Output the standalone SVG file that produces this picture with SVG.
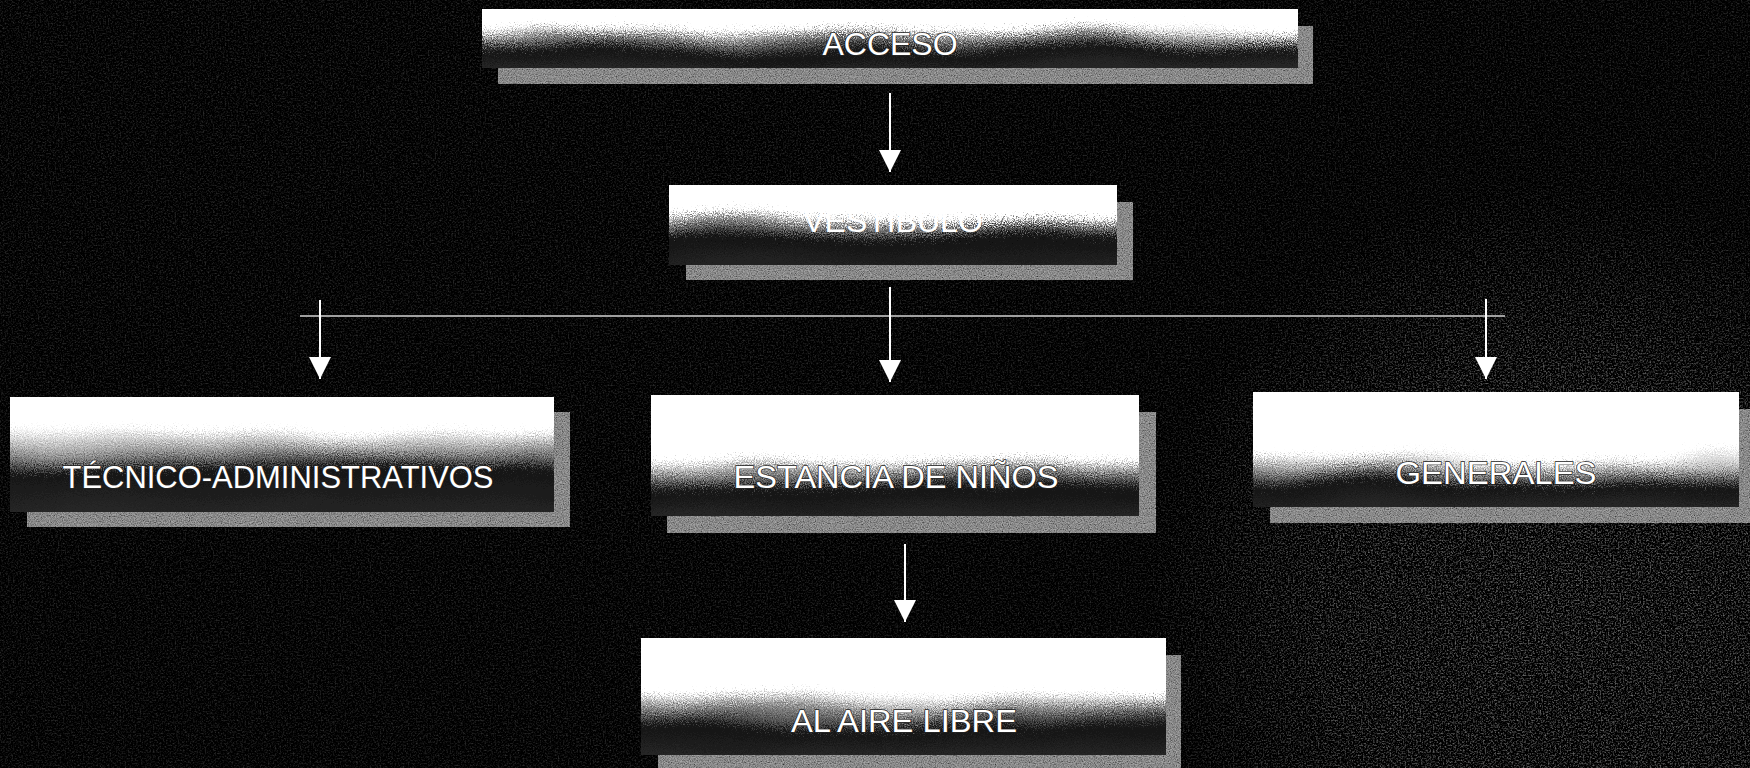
<svg xmlns="http://www.w3.org/2000/svg" width="1750" height="768" viewBox="0 0 1750 768">
<style>
.t{font-family:"Liberation Sans",Arial,sans-serif;font-size:32px;fill:#fff;text-anchor:middle;stroke:#262626;stroke-width:1.4px;paint-order:stroke}
.tn{font-family:"Liberation Sans",Arial,sans-serif;font-size:32px;fill:#fff;text-anchor:middle}
.sh{fill:#a6a6a6;filter:url(#speck)}
.bx{filter:url(#grain)}
.ar{stroke:#fff;stroke-width:2;fill:none;marker-end:url(#ah)}
.hl{stroke:#a0a0a0;stroke-width:2;fill:none}
</style>
<defs>
<filter id="grain" x="-5%" y="-20%" width="110%" height="140%">
<feTurbulence type="fractalNoise" baseFrequency="0.006 0.02" numOctaves="2" seed="9" result="low"/>
<feDisplacementMap in="SourceGraphic" in2="low" scale="26" xChannelSelector="R" yChannelSelector="G" result="w"/>
<feTurbulence type="fractalNoise" baseFrequency="0.9" numOctaves="2" seed="4" result="n"/>
<feDisplacementMap in="w" in2="n" scale="30" xChannelSelector="R" yChannelSelector="G"/>
</filter>
<filter id="speck" x="0" y="0" width="1" height="1">
<feTurbulence type="fractalNoise" baseFrequency="0.85" numOctaves="2" seed="7" result="t"/>
<feColorMatrix in="t" type="matrix" values="1.5 0 0 0 -0.1  1.5 0 0 0 -0.1  1.5 0 0 0 -0.1  0 0 0 0 1" result="g"/>
<feBlend in="SourceGraphic" in2="g" mode="multiply" result="b"/>
<feComposite in="b" in2="SourceAlpha" operator="in"/>
</filter>
<filter id="bgn" x="0" y="0" width="1" height="1">
<feTurbulence type="fractalNoise" baseFrequency="0.6" numOctaves="3" seed="11"/>
<feColorMatrix type="matrix" values="0 0 0 0 0.3  0 0 0 0 0.3  0 0 0 0 0.3  1.6 0 0 0 -0.72"/>
</filter>
<radialGradient id="fadeR" gradientUnits="userSpaceOnUse" cx="1560" cy="600" r="420">
<stop offset="0" stop-color="#fff" stop-opacity="1"/>
<stop offset="0.55" stop-color="#fff" stop-opacity="0.8"/>
<stop offset="1" stop-color="#fff" stop-opacity="0"/>
</radialGradient>
<mask id="mR"><rect x="1050" y="150" width="700" height="618" fill="url(#fadeR)"/></mask>
<marker id="ah" viewBox="0 0 22 22" refX="22" refY="11" markerWidth="22" markerHeight="22" markerUnits="userSpaceOnUse" orient="auto">
<path d="M0,0 L22,11 L0,22 z" fill="#fff"/>
</marker>
<linearGradient id="g1" gradientUnits="userSpaceOnUse" x1="0" y1="9" x2="0" y2="68">
<stop offset="0.34" stop-color="#fff"/><stop offset="0.5" stop-color="#8a8a8a"/><stop offset="0.72" stop-color="#121212"/><stop offset="1" stop-color="#262626"/>
</linearGradient>
<linearGradient id="g2" gradientUnits="userSpaceOnUse" x1="0" y1="185" x2="0" y2="265">
<stop offset="0.4" stop-color="#fff"/><stop offset="0.5" stop-color="#8a8a8a"/><stop offset="0.66" stop-color="#111"/><stop offset="1" stop-color="#222"/>
</linearGradient>
<linearGradient id="g3" gradientUnits="userSpaceOnUse" x1="0" y1="397" x2="0" y2="512">
<stop offset="0.3" stop-color="#fff"/><stop offset="0.46" stop-color="#9a9a9a"/><stop offset="0.66" stop-color="#141414"/><stop offset="1" stop-color="#262626"/>
</linearGradient>
<linearGradient id="g4" gradientUnits="userSpaceOnUse" x1="0" y1="395" x2="0" y2="516">
<stop offset="0.55" stop-color="#fff"/><stop offset="0.66" stop-color="#8a8a8a"/><stop offset="0.8" stop-color="#121212"/><stop offset="1" stop-color="#262626"/>
</linearGradient>
<linearGradient id="g5" gradientUnits="userSpaceOnUse" x1="0" y1="392" x2="0" y2="507">
<stop offset="0.54" stop-color="#fff"/><stop offset="0.66" stop-color="#8a8a8a"/><stop offset="0.8" stop-color="#141414"/><stop offset="1" stop-color="#262626"/>
</linearGradient>
<linearGradient id="g6" gradientUnits="userSpaceOnUse" x1="0" y1="638" x2="0" y2="755">
<stop offset="0.47" stop-color="#fff"/><stop offset="0.61" stop-color="#8a8a8a"/><stop offset="0.78" stop-color="#131313"/><stop offset="1" stop-color="#262626"/>
</linearGradient>
<clipPath id="c1"><rect x="482" y="9" width="816" height="59"/></clipPath>
<clipPath id="c2"><rect x="669" y="185" width="448" height="80"/></clipPath>
<clipPath id="c3"><rect x="10" y="397" width="544" height="115"/></clipPath>
<clipPath id="c4"><rect x="651" y="395" width="488" height="121"/></clipPath>
<clipPath id="c5"><rect x="1253" y="392" width="486" height="115"/></clipPath>
<clipPath id="c6"><rect x="641" y="638" width="525" height="117"/></clipPath>
</defs>

<g id="background">
<rect x="0" y="0" width="1750" height="768" fill="#000"/>
<rect x="0" y="0" width="1750" height="768" fill="#000" filter="url(#bgn)" opacity="0.45"/>
<rect x="1050" y="150" width="700" height="618" fill="#000" filter="url(#bgn)" mask="url(#mR)"/>
</g>

<g id="connectors">
<line class="ar" x1="890" y1="93" x2="890" y2="172"/>
<line class="hl" x1="300" y1="316" x2="1505" y2="316"/>
<line class="ar" x1="890" y1="287" x2="890" y2="382"/>
<line class="ar" x1="320" y1="300" x2="320" y2="379"/>
<line class="ar" x1="1486" y1="299" x2="1486" y2="379"/>
<line class="ar" x1="905" y1="544" x2="905" y2="622"/>
</g>

<g id="node-acceso">
<rect class="sh" x="498" y="26" width="815" height="58"/>
<g clip-path="url(#c1)"><rect class="bx" x="462" y="-11" width="856" height="99" fill="url(#g1)"/></g>
<text class="t" x="890" y="55">ACCESO</text>
</g>

<g id="node-vestibulo">
<rect class="sh" x="686" y="202" width="447" height="78"/>
<g clip-path="url(#c2)"><rect class="bx" x="649" y="165" width="488" height="120" fill="url(#g2)"/></g>
<text class="tn" x="893" y="232">VESTIBULO</text>
</g>

<g id="node-tecnico">
<rect class="sh" x="27" y="412" width="543" height="115"/>
<g clip-path="url(#c3)"><rect class="bx" x="-10" y="377" width="584" height="155" fill="url(#g3)"/></g>
<text class="t" x="278" y="488" textLength="431" lengthAdjust="spacingAndGlyphs">TÉCNICO-ADMINISTRATIVOS</text>
</g>

<g id="node-estancia">
<rect class="sh" x="667" y="412" width="489" height="121"/>
<g clip-path="url(#c4)"><rect class="bx" x="631" y="375" width="528" height="161" fill="url(#g4)"/></g>
<text class="t" x="896" y="488" textLength="325" lengthAdjust="spacingAndGlyphs">ESTANCIA DE NIÑOS</text>
</g>

<g id="node-generales">
<rect class="sh" x="1270" y="409" width="486" height="114"/>
<g clip-path="url(#c5)"><rect class="bx" x="1233" y="372" width="526" height="155" fill="url(#g5)"/></g>
<text class="t" x="1496" y="484" textLength="201" lengthAdjust="spacingAndGlyphs">GENERALES</text>
</g>

<g id="node-aire-libre">
<rect class="sh" x="658" y="655" width="523" height="120"/>
<g clip-path="url(#c6)"><rect class="bx" x="621" y="618" width="565" height="157" fill="url(#g6)"/></g>
<text class="t" x="904" y="732" textLength="226" lengthAdjust="spacingAndGlyphs">AL AIRE LIBRE</text>
</g>
</svg>
